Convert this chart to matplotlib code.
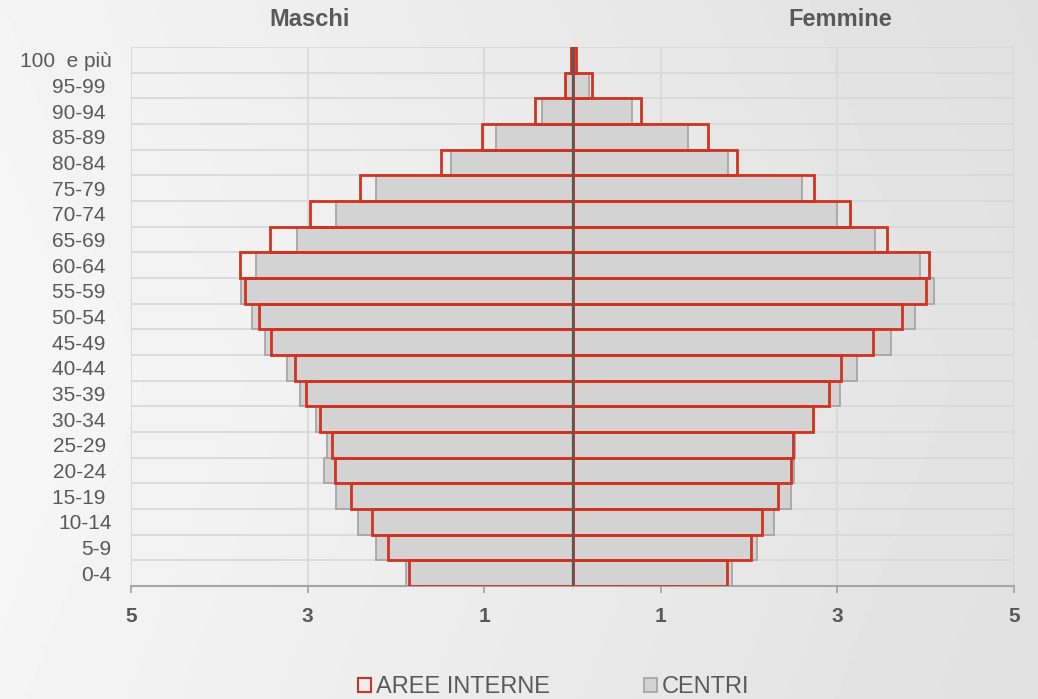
import numpy as np
import matplotlib
matplotlib.use("Agg")
import matplotlib.pyplot as plt
from matplotlib.patches import Patch

plt.rcParams['font.family'] = ['Liberation Sans', 'DejaVu Sans']

# age classes, bottom to top
eta = ["0-4", "5-9", "10-14", "15-19 ", "20-24 ", "25-29 ", "30-34 ", "35-39 ",
       "40-44 ", "45-49 ", "50-54 ", "55-59 ", "60-64 ", "65-69 ", "70-74 ",
       "75-79 ", "80-84 ", "85-89 ", "90-94 ", "95-99 ", "100  e più"]

# percentages
maschi_aree = [1.85, 2.09, 2.27, 2.51, 2.69, 2.72, 2.86, 3.02, 3.14, 3.41, 3.55,
               3.71, 3.76, 3.43, 2.97, 2.41, 1.49, 1.02, 0.43, 0.08, 0.02]
maschi_centri = [1.89, 2.23, 2.43, 2.68, 2.81, 2.78, 2.90, 3.09, 3.23, 3.48, 3.63,
                 3.75, 3.59, 3.12, 2.68, 2.22, 1.38, 0.87, 0.34, 0.07, 0.01]
femmine_aree = [1.75, 2.02, 2.15, 2.33, 2.47, 2.50, 2.72, 2.91, 3.04, 3.40, 3.73,
                4.00, 4.04, 3.56, 3.14, 2.73, 1.86, 1.54, 0.77, 0.22, 0.04]
femmine_centri = [1.81, 2.09, 2.28, 2.47, 2.51, 2.52, 2.74, 3.03, 3.22, 3.61, 3.88,
                  4.09, 3.94, 3.43, 2.99, 2.60, 1.76, 1.31, 0.67, 0.19, 0.02]

x_ticks = [-5, -3, -1, 1, 3, 5]
x_labels = ["5", "3", "1", "1", "3", "5"]

TXT = '#595959'
RED = '#d0331f'
GRAY = '#d3d3d3'
GRAY_EDGE = '#a6a6a6'

fig = plt.figure(figsize=(10.38, 6.99), dpi=100)

# background gradient
bg = fig.add_axes([0, 0, 1, 1], zorder=-10)
xx, yy = np.meshgrid(np.linspace(0, 1, 300), np.linspace(0, 1, 200))
shade = 0.968 - 0.08 * xx - 0.02 * np.abs(yy - 0.55)
bg.imshow(shade, cmap='gray', vmin=0, vmax=1, aspect='auto', extent=[0, 1, 0, 1])
bg.axis('off')

ax = fig.add_axes([0.1262, 0.1617, 0.8507, 0.7711])
ax.set_facecolor('none')

y = np.arange(len(eta))
mc = np.array(maschi_centri)
ma = np.array(maschi_aree)
fc = np.array(femmine_centri)
fa = np.array(femmine_aree)

ax.barh(y, -mc, height=1, color=GRAY, edgecolor=GRAY_EDGE, lw=1.3, zorder=2)
ax.barh(y, fc, height=1, color=GRAY, edgecolor=GRAY_EDGE, lw=1.3, zorder=2)
ax.barh(y, -ma, height=1, facecolor='none', edgecolor=RED, lw=2, zorder=3)
ax.barh(y, fa, height=1, facecolor='none', edgecolor=RED, lw=2, zorder=3)
ax.axvline(0, color=TXT, lw=1.6, zorder=4)

ax.set_xlim(-5, 5)
ax.set_ylim(-0.5, len(eta) - 0.5)
ax.set_xticks(x_ticks)
ax.set_xticklabels(x_labels, fontweight='bold', fontsize=15, color=TXT,
                   family=['Liberation Sans Narrow', 'Liberation Sans'])
ax.set_yticks(y)
ax.set_yticklabels(eta, fontsize=15, color=TXT)
ax.set_yticks(np.arange(-0.5, len(eta), 1), minor=True)

ax.set_axisbelow(True)
ax.xaxis.grid(True, color='#d9d9d9', lw=1.3)
ax.yaxis.grid(True, which='minor', color='#d9d9d9', lw=1.3)
ax.tick_params(axis='y', which='both', length=0, pad=14)
ax.tick_params(axis='x', length=5, width=1.3, color=GRAY_EDGE, pad=10)
for s in ['top', 'right', 'left']:
    ax.spines[s].set_visible(False)
ax.spines['bottom'].set_color(GRAY_EDGE)
ax.spines['bottom'].set_linewidth(1.5)

fig.text(0.2987, 0.9628, 'Maschi', ha='center', va='baseline', fontsize=17,
         fontweight='bold', color=TXT)
fig.text(0.8092, 0.9628, 'Femmine', ha='center', va='baseline', fontsize=17,
         fontweight='bold', color=TXT)

handles = [Patch(facecolor='none', edgecolor=RED, lw=1.5),
           Patch(facecolor=GRAY, edgecolor=GRAY_EDGE, lw=1.3)]
fig.legend(handles, ['AREE INTERNE', 'CENTRI'], loc='center',
           bbox_to_anchor=(554 / 1038, 1 - 687 / 699), ncol=2, frameon=False,
           fontsize=17, handlelength=0.55, handleheight=0.55, handletextpad=0.2,
           columnspacing=4.0, labelcolor=TXT)

fig.savefig('out.png', dpi=100)
